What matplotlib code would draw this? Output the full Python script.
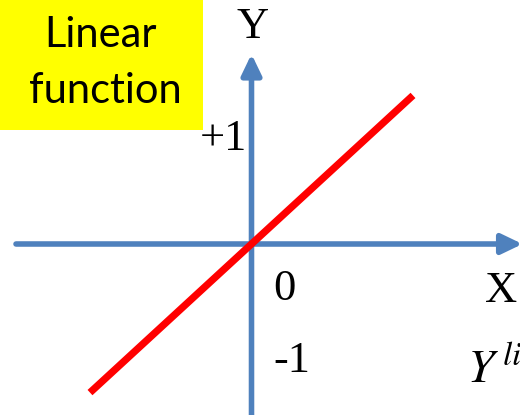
import matplotlib
matplotlib.use("Agg")
import matplotlib.pyplot as plt
from matplotlib.patches import Rectangle

# data for the linear function y = x
line_x = [-1.615, 1.615]
line_y = [-1.615, 1.615]

# axis arrows (tail, tip) in data units
x_axis = [(-2.355, 0.0), (2.71, 0.0)]
y_axis = [(0.0, -1.9), (0.0, 2.065)]

# labels: text, x, y, ha
serif_labels = [
  ("Y", 0.015, 2.239, "center"),
  ("+1", -0.045, 1.022, "right"),
  ("0", 0.215, -0.609, "left"),
  ("X", 2.495, -0.63, "center"),
  ("-1", 0.215, -1.391, "left"),
]
title_lines = ["Linear", "function"]

BLUE = "#4F81BD"
RED = "#FF0000"

plt.rcParams["mathtext.fontset"] = "stix"

fig = plt.figure(figsize=(5.2, 4.15), dpi=100)
ax = fig.add_axes([0, 0, 1, 1])
ax.set_xlim(-2.515, 2.685)
ax.set_ylim(-(415 - 244) / 92, 244 / 92)
ax.axis("off")

# axes with arrowheads
for tail, tip in (x_axis, y_axis):
  ax.annotate(
    "", xy=tip, xytext=tail, annotation_clip=False,
    arrowprops=dict(arrowstyle="-|>,head_length=1.25,head_width=0.6", mutation_scale=10,
                    lw=4, color=BLUE, shrinkA=0, shrinkB=0),
  )

ax.plot(line_x, line_y, color=RED, lw=5.2, solid_capstyle="butt", zorder=3)

for txt, x, y, ha in serif_labels:
  ax.text(x, y, txt, fontsize=32, family="Liberation Serif", ha=ha, va="baseline")

ax.text(2.155, -1.511, r"$Y^{\,line}$", fontsize=34, ha="left", va="baseline")

# yellow title box in the top-left corner
ax.add_patch(Rectangle((0, 1 - 130 / 415), 203 / 520, 130 / 415, transform=ax.transAxes,
                       facecolor="#FFFF00", edgecolor="none", zorder=1))
ax.text(100 / 520, 1 - 47 / 415, title_lines[0], transform=ax.transAxes, fontsize=30,
        family="Lato", ha="center", va="baseline", zorder=2)
ax.text(105 / 520, 1 - 103 / 415, title_lines[1], transform=ax.transAxes, fontsize=30,
        family="Lato", ha="center", va="baseline", zorder=2)

fig.savefig("out.png", dpi=100)
